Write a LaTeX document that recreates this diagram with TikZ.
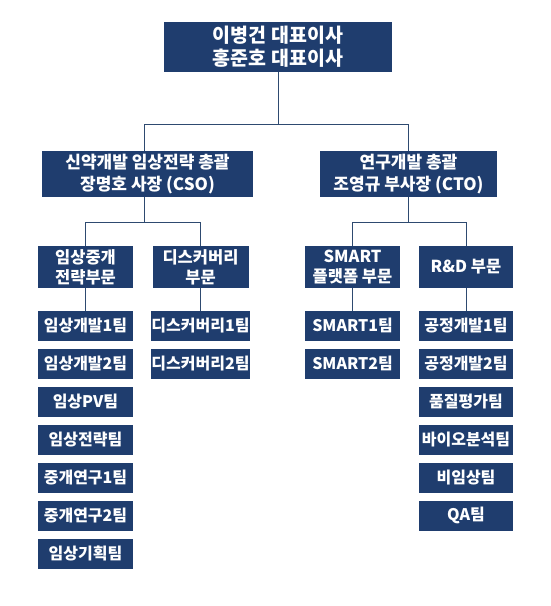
\documentclass[tikz,border=0pt]{standalone}
\usepackage{fontspec}
\setmainfont{Noto Sans CJK KR}
\definecolor{navy}{HTML}{1F3D6E}
\definecolor{linec}{HTML}{2E4A70}
\begin{document}
\begin{tikzpicture}[x=1pt,y=-1pt,
  box/.style={fill=navy, text=white, inner sep=0pt, align=center},
  lvlone/.style={box, font=\bfseries\fontsize{19.5}{23}\selectfont, minimum height=50},
  lvltwo/.style={box, font=\bfseries\fontsize{17}{21.5}\selectfont, minimum height=46},
  lvlthree/.style={box, font=\bfseries\fontsize{16.5}{20}\selectfont, minimum height=42},
  team/.style={box, font=\bfseries\fontsize{16}{18}\selectfont, minimum height=29.5},
  conn/.style={draw=linec, line width=1pt}]
\useasboundingbox (0,0) rectangle (551,606);
\node[lvlone, minimum width=228] (top) at (278,47) {이병건 대표이사\\홍준호 대표이사};
\node[lvltwo, minimum width=211] (cso) at (147.5,174) {신약개발 임상전략 총괄\\장명호 사장 (CSO)};
\node[lvltwo, minimum width=177] (cto) at (408.5,174) {연구개발 총괄\\조영규 부사장 (CTO)};
\node[lvlthree, minimum width=95] (A) at (85.5,267) {임상중개\\전략부문};
\node[lvlthree, minimum width=96] (B) at (200.5,267) {디스커버리\\부문};
\node[lvlthree, minimum width=95] (C) at (352.5,267) {SMART\\플랫폼 부문};
\node[lvlthree, minimum width=94] (D) at (466,267) {R\&D 부문};
\foreach \t [count=\i] in {임상개발1팀,임상개발2팀,임상PV팀,임상전략팀,중개연구1팀,중개연구2팀,임상기획팀}
  \node[team, minimum width=95] (a\i) at (85.5,{325.75+38*(\i-1)}) {\t};
\foreach \t [count=\i] in {디스커버리1팀,디스커버리2팀}
  \node[team, minimum width=95] (b\i) at (200.5,{325.75+38*(\i-1)}) {\t};
\foreach \t [count=\i] in {SMART1팀,SMART2팀}
  \node[team, minimum width=95] (c\i) at (352.5,{325.75+38*(\i-1)}) {\t};
\foreach \t [count=\i] in {공정개발1팀,공정개발2팀,품질평가팀,바이오분석팀,비임상팀,QA팀}
  \node[team, minimum width=94] (d\i) at (466,{325.75+38*(\i-1)}) {\t};
\draw[conn] (top.south) -- ++(0,52) -| ([xshift=-3.5pt]cso.north);
\draw[conn] (top.south) -- ++(0,52) -| (cto.north);
\draw[conn] ([xshift=-3.5pt]cso.south) -- ++(0,25) -| (A.north);
\draw[conn] ([xshift=-3.5pt]cso.south) -- ++(0,25) -| (B.north);
\draw[conn] (cto.south) -- ++(0,25) -| (C.north);
\draw[conn] (cto.south) -- ++(0,25) -| (D.north);
\draw[conn] (A.south) -- (a1.north);
\draw[conn] (B.south) -- (b1.north);
\draw[conn] (C.south) -- (c1.north);
\draw[conn] (D.south) -- (d1.north);
\end{tikzpicture}
\end{document}
